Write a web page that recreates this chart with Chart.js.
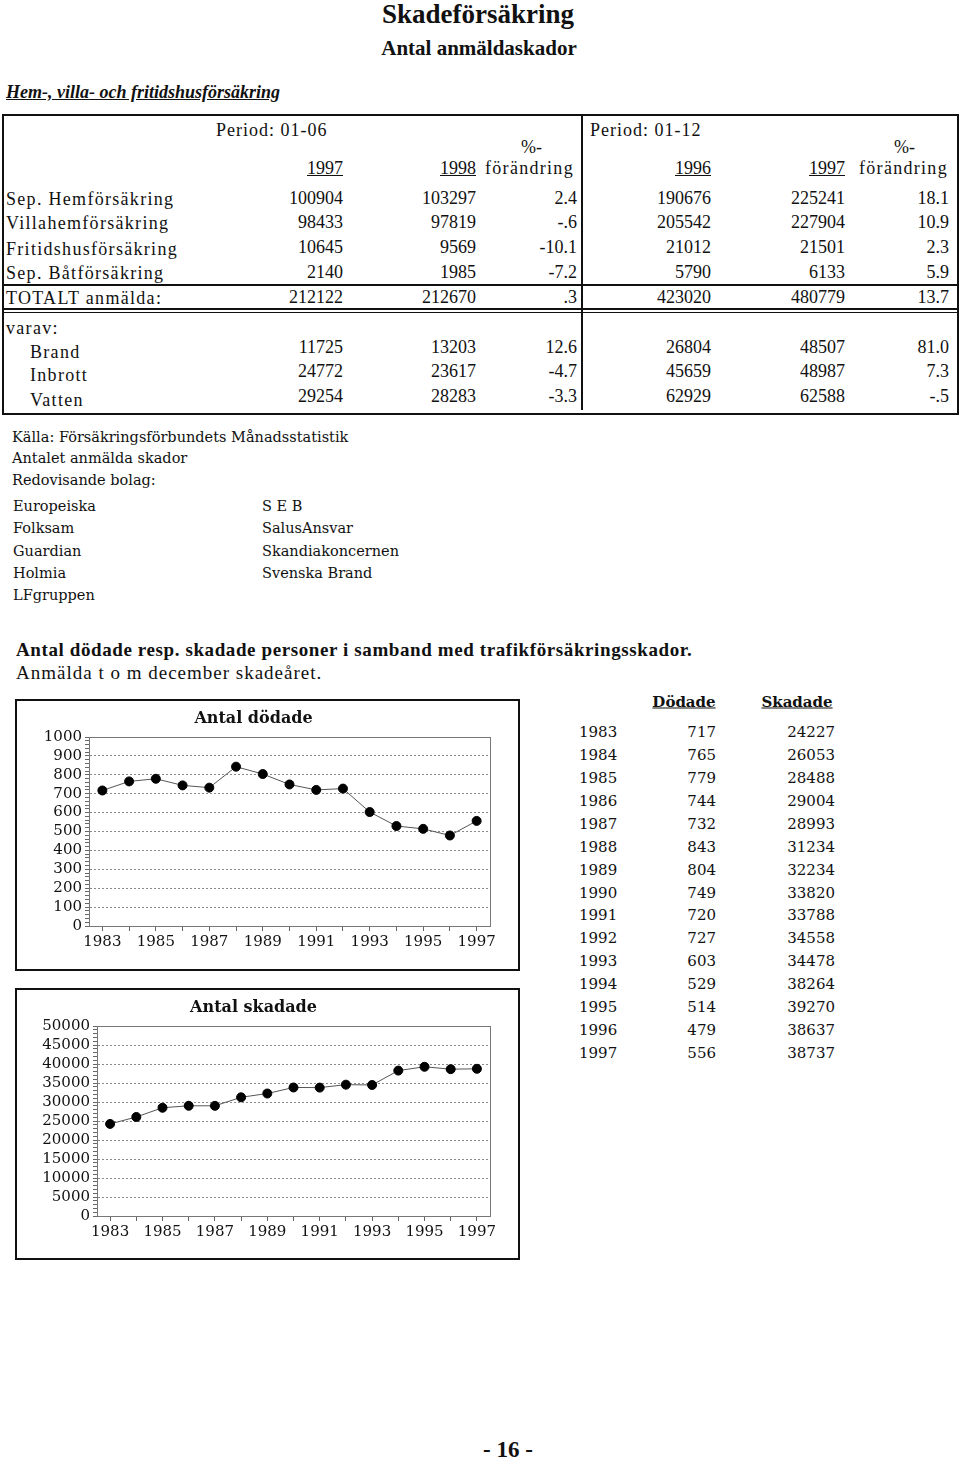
<!DOCTYPE html>
<html>
<head>
<meta charset="utf-8">
<script src="https://cdn.jsdelivr.net/npm/chart.js@4"></script>
<style>
body { margin: 0; background: #fff; }
#page { position: relative; width: 960px; height: 1461px; overflow: hidden; color: #111; }
.t { position: absolute; white-space: nowrap; line-height: 1; }
.lib { font-family: 'Liberation Serif', serif; font-size: 18px; }
.sp { letter-spacing: 1.3px; }
.dv { font-family: 'DejaVu Serif', serif; font-size: 14.5px; }
.box { position: absolute; border: 2px solid #111; box-sizing: border-box; }
.hl { position: absolute; background: #111; }
canvas { position: absolute; }
</style>
</head>
<body>
<div id="page">
  <div class="box" style="left:2px;top:114px;width:957px;height:301px"></div>
  <div class="hl" style="left:581px;top:115px;width:2px;height:295px"></div>
  <div class="hl" style="left:2px;top:284px;width:957px;height:2px"></div>
  <div class="hl" style="left:2px;top:308px;width:957px;height:1.5px"></div>
  <div class="hl" style="left:2px;top:311.5px;width:957px;height:1.5px"></div>

  <div class="box" style="left:15px;top:699px;width:505px;height:272px"></div>
  <div class="box" style="left:15px;top:988px;width:505px;height:272px"></div>
  <canvas id="chartDod" width="500" height="268" style="left:17px;top:701px"></canvas>
  <canvas id="chartSkad" width="500" height="268" style="left:17px;top:990px"></canvas>
</div>
<script>
// Trafikskador 1983-1997
var years = ['1983', '1984', '1985', '1986', '1987', '1988', '1989', '1990', '1991', '1992', '1993', '1994', '1995', '1996', '1997'];
var dodade = [717, 765, 779, 744, 732, 843, 804, 749, 720, 727, 603, 529, 514, 479, 556];
var skadade = [24227, 26053, 28488, 29004, 28993, 31234, 32234, 33820, 33788, 34558, 34478, 38264, 39270, 38637, 38737];

// Antal anmälda skador (tabell)
var rowLabels = ['Sep. Hemförsäkring', 'Villahemförsäkring', 'Fritidshusförsäkring', 'Sep. Båtförsäkring', 'TOTALT anmälda:'];
var subLabels = ['Brand', 'Inbrott', 'Vatten'];
var jan97 = ['100904', '98433', '10645', '2140', '212122', '11725', '24772', '29254'];
var jan98 = ['103297', '97819', '9569', '1985', '212670', '13203', '23617', '28283'];
var pctJan = ['2.4', '-.6', '-10.1', '-7.2', '.3', '12.6', '-4.7', '-3.3'];
var hel96 = ['190676', '205542', '21012', '5790', '423020', '26804', '45659', '62929'];
var hel97 = ['225241', '227904', '21501', '6133', '480779', '48507', '48987', '62588'];
var pctHel = ['18.1', '10.9', '2.3', '5.9', '13.7', '81.0', '7.3', '-.5'];

var bolagA = ['Europeiska', 'Folksam', 'Guardian', 'Holmia', 'LFgruppen'];
var bolagB = ['S E B', 'SalusAnsvar', 'Skandiakoncernen', 'Svenska Brand'];

var page = document.getElementById('page');

function txt(x, y, s, cls, align, extra) {
    var d = document.createElement('div');
    d.className = 't ' + cls;
    d.textContent = s;
    var tx = align === 'r' ? '-100%' : (align === 'c' ? '-50%' : '0');
    d.style.left = x + 'px';
    d.style.top = y + 'px';
    d.style.transform = 'translate(' + tx + ',-50%)';
    if (extra) d.style.cssText += extra;
    page.appendChild(d);
    return d;
}

// rubriker
txt(478, 14, 'Skadeförsäkring', 'lib', 'c', 'font-size:27px;font-weight:bold;');
txt(479, 48, 'Antal anmäldaskador', 'lib', 'c', 'font-size:21px;font-weight:bold;');
txt(6, 92, 'Hem-, villa- och fritidshusförsäkring', 'lib', 'l', 'font-size:18px;font-weight:bold;font-style:italic;text-decoration:underline;');

// tabellhuvud
txt(216, 130, 'Period: 01-06', 'lib sp', 'l', 'letter-spacing:1px;');
txt(590, 130, 'Period: 01-12', 'lib sp', 'l', 'letter-spacing:1px;');
txt(521, 147, '%-', 'lib', 'l');
txt(894, 147, '%-', 'lib', 'l');
txt(343, 168, '1997', 'lib', 'r', 'text-decoration:underline;');
txt(476, 168, '1998', 'lib', 'r', 'text-decoration:underline;');
txt(711, 168, '1996', 'lib', 'r', 'text-decoration:underline;');
txt(845, 168, '1997', 'lib', 'r', 'text-decoration:underline;');
txt(485, 168, 'förändring', 'lib sp', 'l');
txt(859, 168, 'förändring', 'lib sp', 'l');

var labelY = [199, 223, 249, 273, 298];
var subY = [352, 375, 400];
var numY = [198, 222, 247, 272, 297, 347, 371, 396];
var colX = [343, 476, 577, 711, 845, 949];
var cols = [jan97, jan98, pctJan, hel96, hel97, pctHel];

rowLabels.forEach(function (s, i) { txt(6, labelY[i], s, 'lib sp', 'l'); });
txt(6, 328, 'varav:', 'lib sp', 'l');
subLabels.forEach(function (s, i) { txt(30, subY[i], s, 'lib sp', 'l'); });
cols.forEach(function (col, c) {
    col.forEach(function (v, i) { txt(colX[c], numY[i], v, 'lib', 'r'); });
});

// källa
txt(12, 437, 'Källa: Försäkringsförbundets Månadsstatistik', 'dv', 'l');
txt(12, 458, 'Antalet anmälda skador', 'dv', 'l');
txt(12, 480, 'Redovisande bolag:', 'dv', 'l');
bolagA.forEach(function (s, i) { txt(13, 506 + i * 22.3, s, 'dv', 'l'); });
bolagB.forEach(function (s, i) { txt(262, 506 + i * 22.3, s, 'dv', 'l'); });

// trafik
txt(16, 649, 'Antal dödade resp. skadade personer i samband med trafikförsäkringsskador.', 'lib', 'l', 'font-size:19px;font-weight:bold;letter-spacing:0.6px;');
txt(16, 672, 'Anmälda t o m december skadeåret.', 'lib', 'l', 'font-size:19px;letter-spacing:1px;');

txt(684, 702, 'Dödade', 'dv', 'c', 'font-size:15px;font-weight:bold;text-decoration:underline;');
txt(797, 702, 'Skadade', 'dv', 'c', 'font-size:15px;font-weight:bold;text-decoration:underline;');
years.forEach(function (y, i) {
    var yy = 732 + i * 22.93;
    txt(579, yy, y, 'dv', 'l', 'font-size:15px;');
    txt(716, yy, String(dodade[i]), 'dv', 'r', 'font-size:15px;');
    txt(835, yy, String(skadade[i]), 'dv', 'r', 'font-size:15px;');
});

txt(508, 1449, '- 16 -', 'lib', 'c', 'font-size:23px;font-weight:bold;');

// diagram
Chart.defaults.font.family = "'DejaVu Serif', serif";
Chart.defaults.color = '#111';

var frame = {
    id: 'frame',
    afterDraw: function (c) {
        var a = c.chartArea, ctx = c.ctx;
        ctx.save();
        ctx.strokeStyle = '#777';
        ctx.lineWidth = 1;
        ctx.strokeRect(Math.round(a.left) + 0.5, Math.round(a.top) + 0.5, Math.round(a.right - a.left), Math.round(a.bottom - a.top));
        ctx.restore();
    }
};

function makeChart(id, title, values, yMax, major, minor, yWidth, xHeight) {
    return new Chart(document.getElementById(id).getContext('2d'), {
        type: 'line',
        data: {
            labels: years,
            datasets: [{
                data: values,
                borderColor: '#555',
                borderWidth: 1,
                tension: 0,
                pointRadius: 4.5,
                pointBackgroundColor: '#000',
                pointBorderColor: '#000'
            }]
        },
        options: {
            responsive: false,
            animation: false,
            layout: { padding: { left: 0, right: 27, top: 8, bottom: 0 } },
            plugins: {
                legend: { display: false },
                tooltip: { enabled: false },
                title: {
                    display: true,
                    text: title,
                    color: '#111',
                    font: { size: 16, weight: 'bold' },
                    padding: { top: 0, bottom: 8.8 }
                }
            },
            scales: {
                x: {
                    offset: true,
                    afterFit: function (s) { s.height = xHeight; },
                    grid: { drawOnChartArea: false, offset: false, tickLength: 5, tickColor: '#666' },
                    border: { color: '#777' },
                    ticks: {
                        autoSkip: false,
                        maxRotation: 0,
                        padding: 2,
                        font: { size: 15 },
                        callback: function (v, i) { return i % 2 === 0 ? this.getLabelForValue(v) : ''; }
                    }
                },
                y: {
                    min: 0,
                    max: yMax,
                    afterFit: function (s) { s.width = yWidth; },
                    grid: {
                        color: function (c) { return c.tick && c.tick.value % major === 0 ? '#8a8a8a' : 'rgba(0,0,0,0)'; },
                        tickColor: '#666',
                        tickLength: 4
                    },
                    border: { color: '#777', dash: [2, 2] },
                    ticks: {
                        stepSize: minor,
                        maxTicksLimit: 100,
                        autoSkip: false,
                        padding: 3,
                        font: { size: 15 },
                        callback: function (v) { return v % major === 0 ? v : ''; }
                    }
                }
            }
        },
        plugins: [frame]
    });
}

makeChart('chartDod', 'Antal dödade', dodade, 1000, 100, 20, 72, 43);
makeChart('chartSkad', 'Antal skadade', skadade, 50000, 5000, 1000, 80, 42);
</script>
</body>
</html>
